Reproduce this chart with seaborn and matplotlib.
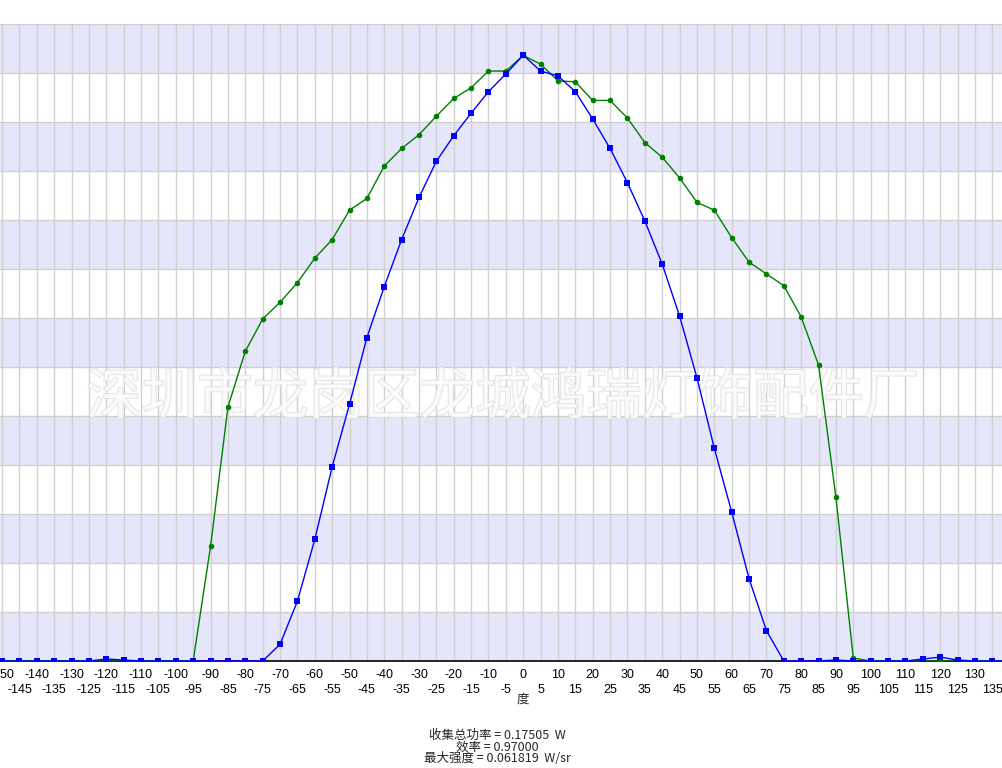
import matplotlib
matplotlib.use("Agg")
import matplotlib.pyplot as plt
import matplotlib.patheffects as pe
import seaborn as sns
import pandas as pd
import numpy as np

# angle grid (deg) and the two intensity curves (W/sr)
angles = list(range(-150, 145, 5))

blue_vals = [
    0, 0, 0, 0, 0, 0, 0.0002, 0.0001, 0, 0, 0, 0, 0, 0, 0, 0,   # -150 .. -75
    0.0017, 0.0061, 0.0124, 0.0198, 0.0262, 0.0330, 0.0382, 0.0430,  # -70 .. -35
    0.0473, 0.0510, 0.0536, 0.0559, 0.0581, 0.0599, 0.061819,        # -30 .. 0
    0.0602, 0.0597, 0.0581, 0.0553, 0.0523, 0.0488, 0.0449, 0.0405,  # 5 .. 40
    0.0352, 0.0289, 0.0217, 0.0152, 0.0084, 0.0031, 0,               # 45 .. 75
    0, 0, 0.0001, 0, 0, 0, 0, 0.0002, 0.0004, 0.0001, 0, 0, 0,       # 80 .. 140
]

green_vals = [
    0, 0, 0, 0, 0, 0, 0, 0, 0, 0, 0, 0,                              # -150 .. -95
    0.0117, 0.0259, 0.0316, 0.0349, 0.0366, 0.0386, 0.0411, 0.0430,  # -90 .. -55
    0.0460, 0.0472, 0.0505, 0.0523, 0.0537, 0.0556, 0.0574, 0.0585,  # -50 .. -15
    0.0602, 0.0602, 0.0618,                                          # -10 .. 0
    0.0609, 0.0592, 0.0591, 0.0572, 0.0572, 0.0554, 0.0529, 0.0514,  # 5 .. 40
    0.0493, 0.0468, 0.0460, 0.0432, 0.0407, 0.0395, 0.0383, 0.0351,  # 45 .. 80
    0.0302, 0.0167, 0.0003,                                          # 85 .. 95
    0, 0, 0, 0, 0, 0, 0, 0, 0,                                       # 100 .. 140
]

watermark = "深圳市龙岗区龙城鸿瑞灯饰配件厂"
x_label = "度"
info_lines = ["收集总功率 = 0.17505  W", "效率 = 0.97000", "最大强度 = 0.061819  W/sr"]

df = pd.DataFrame({"angle": angles, "blue": blue_vals, "green": green_vals})

sns.set_style("white")
plt.rcParams["font.family"] = ["Liberation Sans", "Noto Sans CJK SC", "DejaVu Sans"]

fig = plt.figure(figsize=(10.02, 7.68), dpi=100)
ax = fig.add_axes([0, 1 - 661 / 768, 1, 637 / 768])

x_min, x_max = -150.6, 137.8
y_max = 0.065

# alternating horizontal bands
for i in range(13):
    if i % 2 == 0:
        ax.axhspan(i * 0.005, (i + 1) * 0.005, color="#e6e6fa", zorder=0, lw=0)
for i in range(1, 14):
    ax.axhline(i * 0.005, color="#d0d0d0", lw=1, zorder=0.5)
for a in range(-150, 145, 5):
    ax.axvline(a, color="#d0d0d0", lw=1, zorder=0.5)

ax.text(-6, 0.0268, watermark, ha="center", va="center", fontsize=40,
        family=["Noto Sans CJK SC"], color="#fcfcfc", alpha=0.8, zorder=1,
        path_effects=[pe.withStroke(linewidth=1.5, foreground="#e0e0e0")])

sns.lineplot(data=df, x="angle", y="green", ax=ax, color="#008000", lw=1,
             marker="o", markersize=4, markeredgewidth=0, zorder=3)
sns.lineplot(data=df, x="angle", y="blue", ax=ax, color="#0000ff", lw=1,
             marker="s", markersize=4.5, markeredgewidth=0, zorder=4)

ax.set_xlim(x_min, x_max)
ax.set_ylim(0, y_max)

for s in ["left", "right", "top"]:
    ax.spines[s].set_visible(False)
ax.spines["bottom"].set_color("black")
ax.spines["bottom"].set_linewidth(1.2)

major = list(range(-150, 141, 10))
minor = list(range(-145, 141, 10))
ax.set_xticks(major, [str(v) for v in major])
ax.set_xticks(minor, [str(v) for v in minor], minor=True)
ax.tick_params(axis="x", which="major", direction="out", length=5, width=1,
               pad=1, labelsize=9, colors="black")
ax.tick_params(axis="x", which="minor", direction="out", length=5, width=1,
               pad=11.5, labelsize=9, colors="black")
ax.set_yticks([])
ax.set_xlabel("")
ax.set_ylabel("")
ax.set_xlim(x_min, x_max)

fig.text(523 / 1002, 1 - 699 / 768, x_label, ha="center", va="center", fontsize=9,
         family=["Noto Sans CJK SC"])
for k, line in enumerate(info_lines):
    fig.text(497 / 1002, 1 - (735 + 12 * k) / 768, line, ha="center", va="center",
             fontsize=9, family=["Noto Sans CJK SC", "DejaVu Sans"])

fig.savefig("out.png", dpi=100)
